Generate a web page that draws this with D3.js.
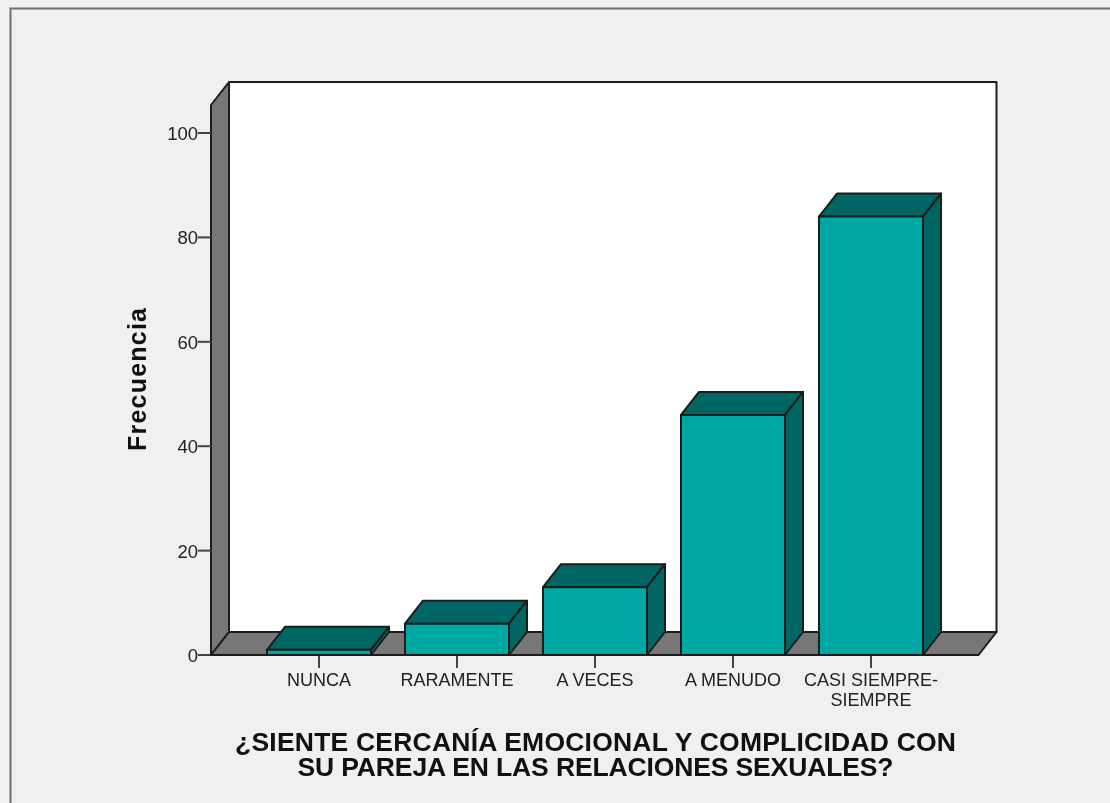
<!DOCTYPE html>
<html><head><meta charset="utf-8">
<script src="https://cdn.jsdelivr.net/npm/d3@7"></script>
<style>
html,body{margin:0;padding:0;background:#f0f0f0;overflow:hidden}
svg{display:block}
text{font-family:"Liberation Sans",Arial,sans-serif}
#chart{filter:blur(0.45px)}
</style></head><body>
<script>
const categories = ["NUNCA","RARAMENTE","A VECES","A MENUDO","CASI SIEMPRE-|SIEMPRE"];
const frecuencia = [1,6,13,46,84];
const yTicks = [0,20,40,60,80,100];
const xTitle = ["¿SIENTE CERCANÍA EMOCIONAL Y COMPLICIDAD CON","SU PAREJA EN LAS RELACIONES SEXUALES?"];
const yTitle = "Frecuencia";

const W=1110,H=803;
const dx=18,dy=-23;
const left=211,right=978.5,base=655,yMaxPx=105;
const y=d3.scaleLinear().domain([0,100]).range([base,133]);
const x=d3.scaleBand().domain(categories).range([250,940]).paddingInner(0.246).paddingOuter(0.123);
const stroke="#1c1c1c", wall="#777777", front="#00a8a3", dark="#006664";

const root=d3.select("body").append("svg").attr("width",W).attr("height",H);
root.append("rect").attr("width",W).attr("height",H).attr("fill","#f0f0f0");
const svg=root.append("g").attr("id","chart");
svg.append("path").attr("d",`M10.5,${H} V8.5 H${W}`).attr("fill","none").attr("stroke","#6e6e6e").attr("stroke-width",2);

const poly=(pts,fill,sw=2)=>svg.append("polygon").attr("points",pts.map(p=>p.join(",")).join(" "))
  .attr("fill",fill).attr("stroke",stroke).attr("stroke-width",sw).attr("stroke-linejoin","round");

// back wall, side wall, floor
poly([[left+dx,yMaxPx+dy],[right+dx,yMaxPx+dy],[right+dx,base+dy],[left+dx,base+dy]],"#ffffff");
poly([[left,yMaxPx],[left+dx,yMaxPx+dy],[left+dx,base+dy],[left,base]],wall);
poly([[left,base],[left+dx,base+dy],[right+dx,base+dy],[right,base]],wall);

// y axis ticks
const yg=svg.append("g");
yTicks.forEach(t=>{
  yg.append("line").attr("x1",left-13).attr("x2",left).attr("y1",y(t)).attr("y2",y(t)).attr("stroke","#444").attr("stroke-width",2);
  yg.append("text").attr("x",left-13).attr("y",y(t)+7).attr("text-anchor","end").attr("font-size",18.5).attr("fill","#222").text(t);
});

// bars
categories.forEach((c,i)=>{
  const x0=x(c),x1=x0+x.bandwidth(),yv=y(frecuencia[i]);
  poly([[x0,yv],[x0+dx,yv+dy],[x1+dx,yv+dy],[x1,yv]],dark);
  poly([[x1,yv],[x1+dx,yv+dy],[x1+dx,base+dy],[x1,base]],dark);
  poly([[x0,yv],[x1,yv],[x1,base],[x0,base]],front);
  const cx=x0+x.bandwidth()/2;
  svg.append("line").attr("x1",cx).attr("x2",cx).attr("y1",base).attr("y2",base+13).attr("stroke","#444").attr("stroke-width",2);
  c.split("|").forEach((l,k)=>svg.append("text").attr("x",cx).attr("y",686+k*20).attr("text-anchor","middle")
     .attr("font-size",18).attr("fill","#222").text(l));
});
svg.append("line").attr("x1",left-1).attr("x2",right).attr("y1",base).attr("y2",base).attr("stroke",stroke).attr("stroke-width",2);

// titles
const titleWidths=[721,596];
xTitle.forEach((l,k)=>svg.append("text").attr("x",595.5).attr("y",751+k*25).attr("text-anchor","middle")
  .attr("font-size",26.5).attr("font-weight","bold").attr("fill","#111")
  .attr("textLength",titleWidths[k]).attr("lengthAdjust","spacing").text(l));
svg.append("text").attr("transform","translate(146,379.5) rotate(-90)").attr("text-anchor","middle")
  .attr("font-size",25).attr("font-weight","bold").attr("fill","#111")
  .attr("textLength",143).attr("lengthAdjust","spacing").text(yTitle);
</script>
</body></html>
